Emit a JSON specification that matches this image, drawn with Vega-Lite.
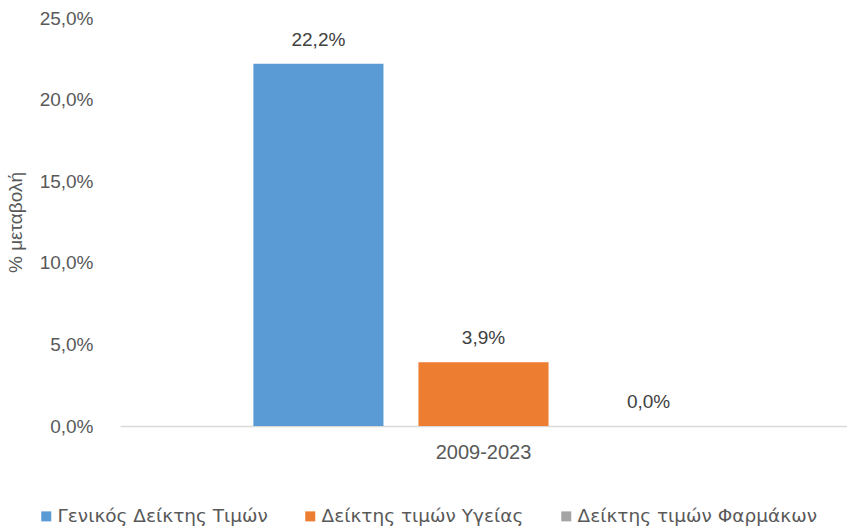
{
  "$schema": "https://vega.github.io/schema/vega-lite/v6.json",
  "width": 727,
  "height": 408,
  "autosize": {"type": "none"},
  "padding": {"left": 120, "top": 18, "right": 0, "bottom": 104},
  "background": "white",
  "config": {
    "view": {"stroke": null},
    "font": "Liberation Sans",
    "locale": {"number": {"decimal": ",", "thousands": ".", "grouping": [3], "currency": ["", " €"]}}
  },
  "data": {
    "values": [
      {"period": "2009-2023", "series": "Γενικός Δείκτης Τιμών", "order": 1, "value": 0.222},
      {"period": "2009-2023", "series": "Δείκτης τιμών Υγείας", "order": 2, "value": 0.039},
      {"period": "2009-2023", "series": "Δείκτης τιμών Φαρμάκων", "order": 3, "value": 0.0}
    ]
  },
  "encoding": {
    "x": {
      "field": "period", "type": "nominal",
      "scale": {"paddingInner": 0, "paddingOuter": 0.234},
      "axis": {
        "title": null, "labelAngle": 0, "ticks": false,
        "domainColor": "#d9d9d9", "domainWidth": 1.5,
        "labelFontSize": 20, "labelColor": "#595959", "labelPadding": 16
      }
    },
    "xOffset": {
      "field": "series", "type": "nominal",
      "sort": ["Γενικός Δείκτης Τιμών", "Δείκτης τιμών Υγείας", "Δείκτης τιμών Φαρμάκων"],
      "scale": {"paddingInner": 0.212, "paddingOuter": 0.106}
    },
    "y": {
      "field": "value", "type": "quantitative",
      "scale": {"domain": [0, 0.25], "nice": false},
      "axis": {
        "title": "% μεταβολή", "format": ".1%", "values": [0, 0.05, 0.1, 0.15, 0.2, 0.25],
        "grid": false, "domain": false, "ticks": false,
        "labelFontSize": 19, "labelColor": "#595959", "labelPadding": 27,
        "titleFontSize": 19, "titleFontWeight": "normal", "titleColor": "#595959", "titlePadding": 14
      }
    }
  },
  "layer": [
    {
      "mark": {"type": "bar"},
      "encoding": {
        "color": {
          "field": "series", "type": "nominal",
          "sort": ["Γενικός Δείκτης Τιμών", "Δείκτης τιμών Υγείας", "Δείκτης τιμών Φαρμάκων"],
          "scale": {"range": ["#5b9bd5", "#ed7d31", "#a5a5a5"]},
          "legend": {
            "title": null, "orient": "none", "direction": "horizontal",
            "legendX": -83, "legendY": 489, "padding": 0,
            "symbolType": "square", "symbolSize": 100, "symbolStrokeWidth": 0,
            "labelFont": "DejaVu Sans", "labelFontSize": 18.5, "labelColor": "#595959", "labelOffset": 2, "labelLimit": 0,
            "columnPadding": 33
          }
        }
      }
    },
    {
      "mark": {"type": "text", "baseline": "middle", "dy": -24, "fontSize": 19, "color": "#404040"},
      "encoding": {
        "text": {"field": "value", "type": "quantitative", "format": ".1%"}
      }
    }
  ]
}
